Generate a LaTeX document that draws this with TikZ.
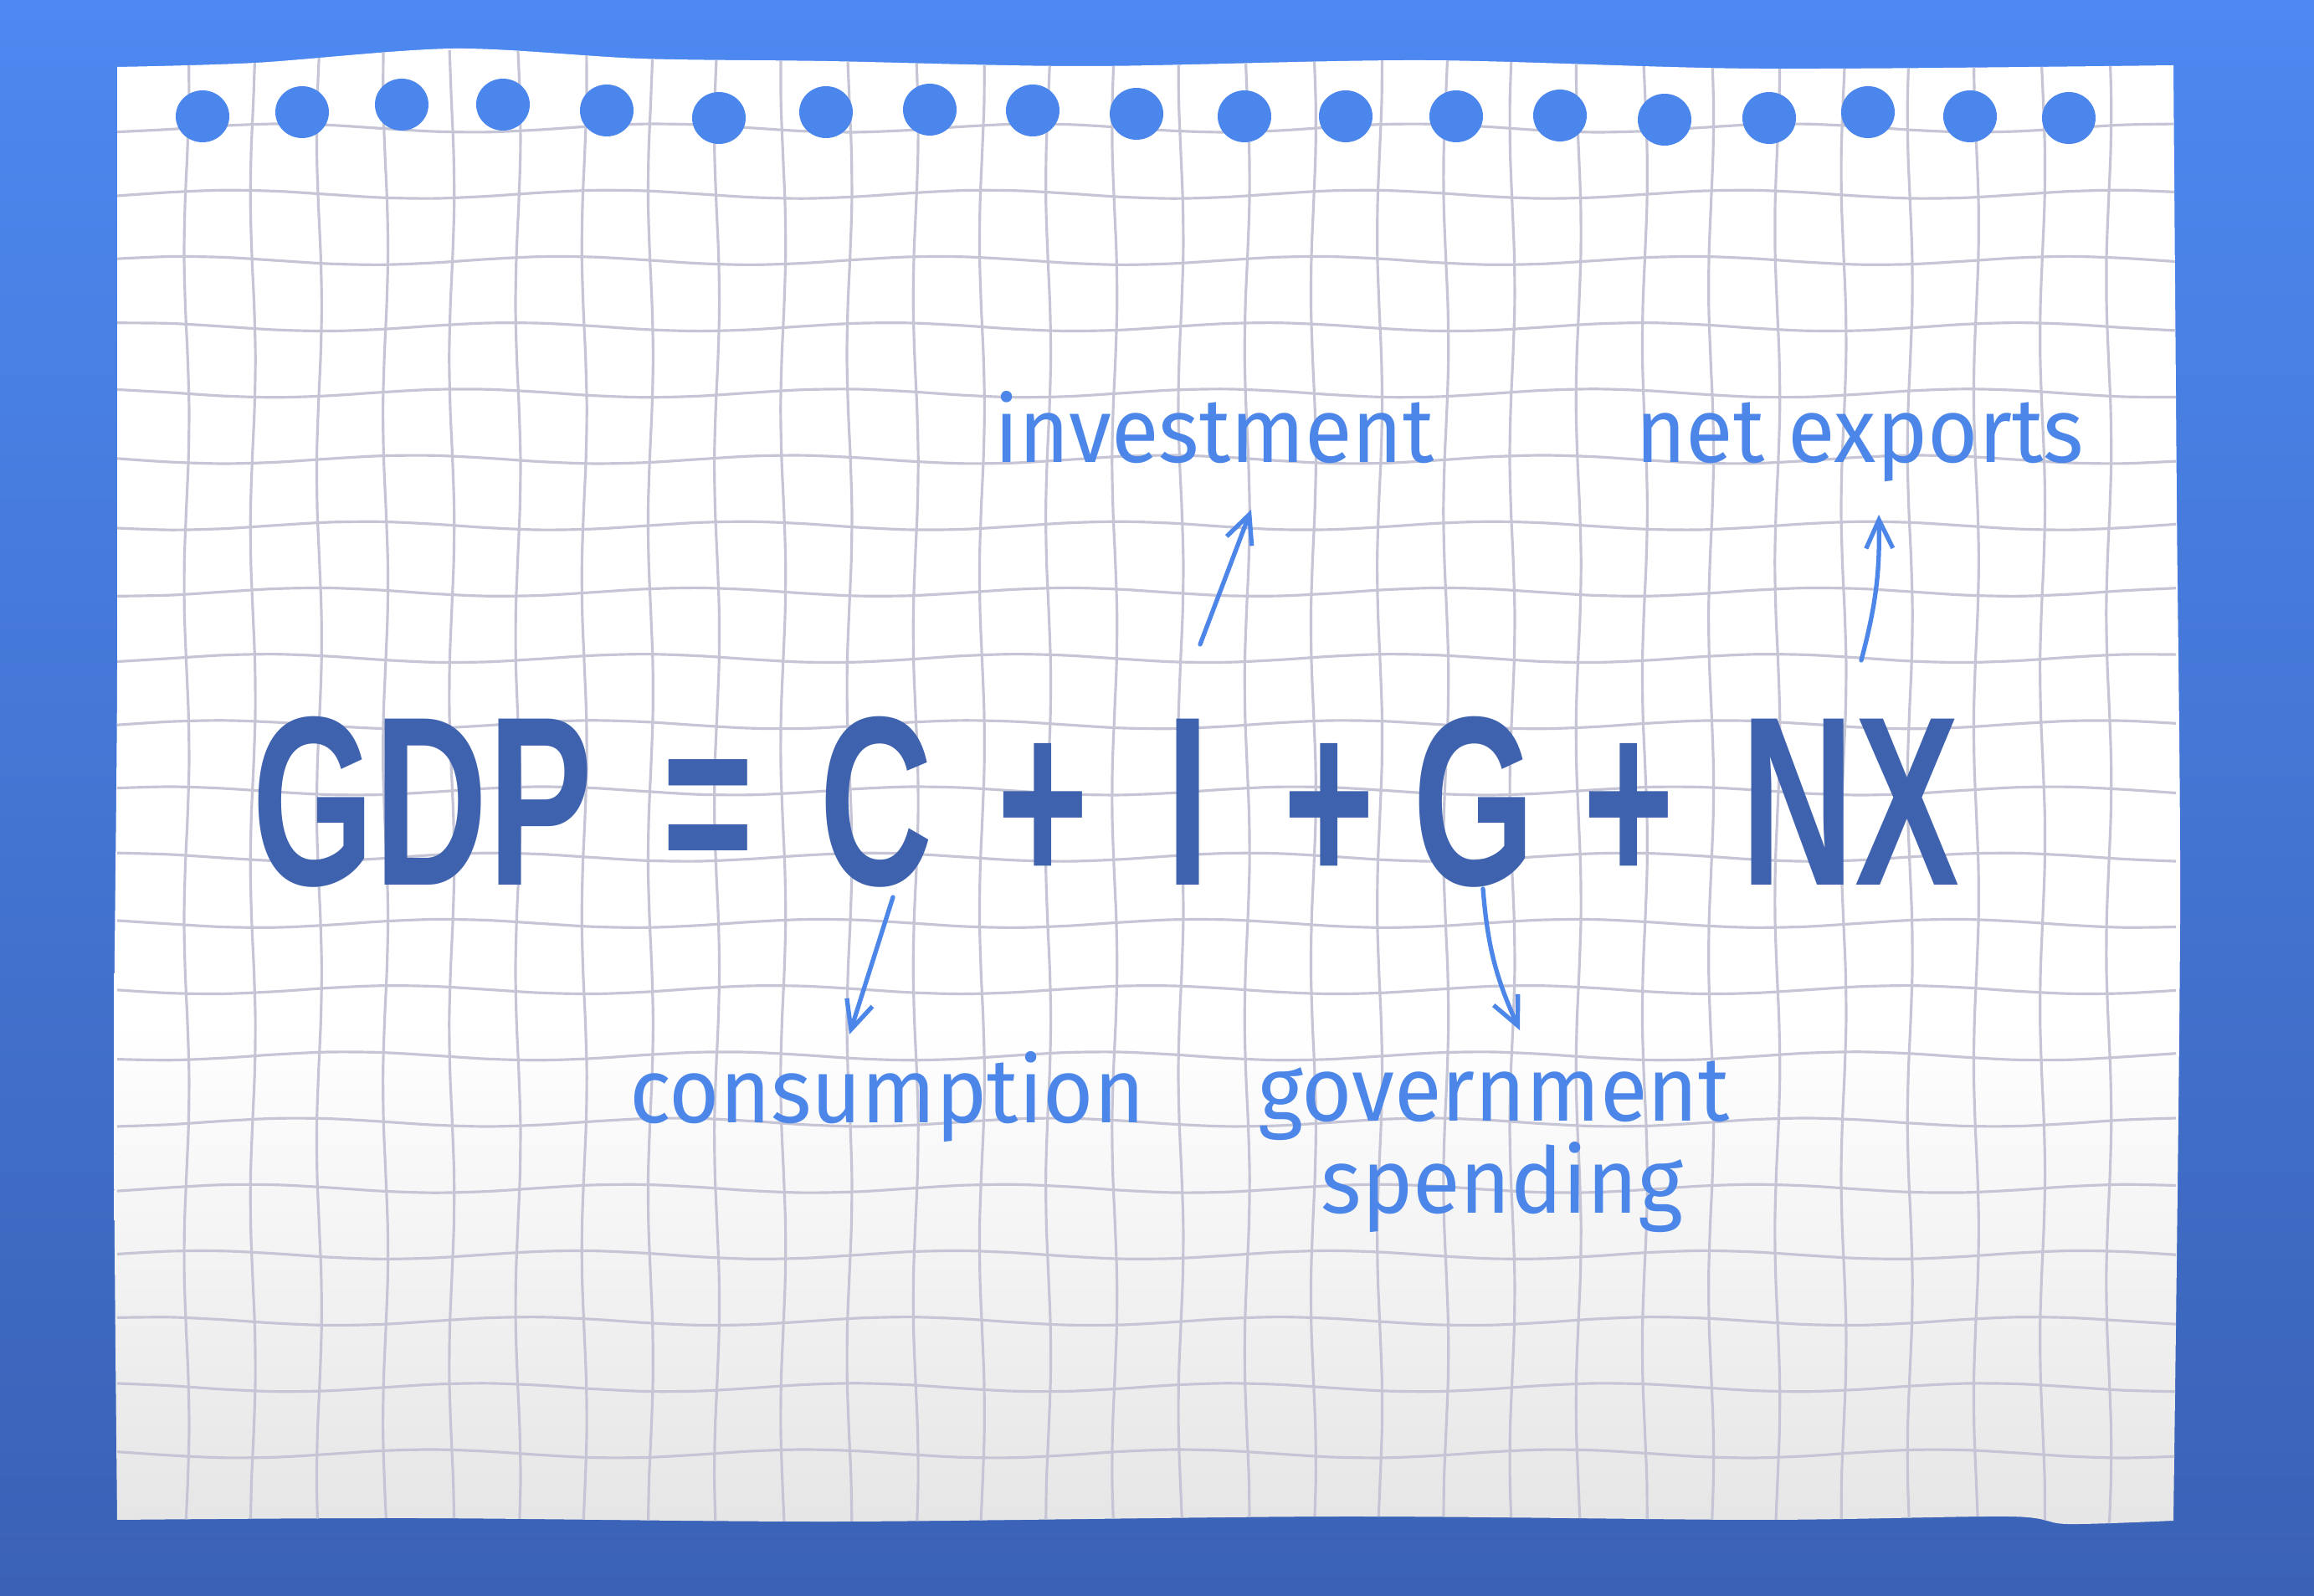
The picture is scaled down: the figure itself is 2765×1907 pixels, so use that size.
\documentclass[tikz,border=0pt]{standalone}
\usepackage{fontspec}
\usepackage{xcolor}
\usepackage{tikz}
\usetikzlibrary{arrows.meta}

\newfontfamily\eqfont[FakeStretch=0.65]{Liberation Sans}
\newfontfamily\penfont[FakeStretch=0.95]{Fira Sans}

\definecolor{bgtop}{HTML}{4D89F1}
\definecolor{bgbot}{HTML}{3A61B5}
\definecolor{paperlow}{HTML}{C4C4C4}
\definecolor{papermid}{HTML}{EAEAEA}
\definecolor{gridc}{HTML}{C6C5D6}
\definecolor{dotblue}{HTML}{4A86EC}
\definecolor{eqblue}{HTML}{3F62AE}
\definecolor{penblue}{HTML}{4C86E8}

\pgfdeclareverticalshading{paperfade}{100bp}{color(0bp)=(paperlow); color(28bp)=(papermid); color(42bp)=(white); color(100bp)=(white)}

% wavy outline of the sheet, in pixel units
\newcommand{\paperoutline}{plot[smooth] coordinates {(140,80) (306,75) (542,58) (765,70) (988,73) (1300,79) (1700,72) (2100,82) (2597,78)}
  -- plot[smooth] coordinates {(2597,78) (2601,600) (2605,1100) (2597,1817)}
  -- plot[smooth] coordinates {(2597,1817) (2470,1821) (2400,1812) (2100,1816) (1600,1812) (1000,1818) (500,1814) (140,1816)}
  -- plot[smooth] coordinates {(140,1816) (136,1300) (140,800) (140,80)} -- cycle}

\begin{document}
\begin{tikzpicture}[x=0.01cm, y=-0.01cm,
  eqterm/.style={anchor=base, inner sep=0pt, text=eqblue, font=\eqfont\bfseries\fontsize{82}{82}\selectfont},
  penlabel/.style={anchor=base, inner sep=0pt, text=penblue, font=\penfont\fontsize{31}{31}\selectfont},
  note/.style={penblue, line width=1.5pt, line cap=round, line join=round, -{Straight Barb[length=0.34cm, width=0.32cm]}},
  gridline/.style={gridc, line width=0.9pt}]

\useasboundingbox (0,0) rectangle (2765,1907);
\shade[top color=bgtop, bottom color=bgbot] (0,0) rectangle (2765,1907);

% the sheet and its grid
\shade[shading=paperfade] \paperoutline;
\begin{scope}
  \clip \paperoutline;
  \foreach \k in {0,...,20}
    \draw[gridline] plot[smooth, domain=140:2600, samples=40] (\x, {153+79.2*\k + 5*sin(0.8*\x + 47*\k)});
  \foreach \k in {0,...,29}
    \draw[gridline] plot[smooth, domain=60:1830, samples=30] ({223+79.2*\k + 3*sin(0.9*\x + 61*\k)}, \x);
\end{scope}

% punched holes
\foreach \px/\py in {242/139, 361/134, 480/125, 601/125, 725/132, 859/141, 987/134, 1111/131, 1234/132, 1358/136,
    1487/139, 1608/139, 1740/139, 1864/138, 1989/143, 2114/141, 2232/134, 2354/139, 2472/141}
  \fill[dotblue] (\px,\py) ellipse (32 and 31);

% equation
\node[eqterm] (gdp) at (505,1058) {GDP};
\node[eqterm] (eq) at (846,1058) {=};
\node[eqterm] (cons) at (1047,1058) {C};
\node[eqterm] (plusA) at (1246,1058) {+};
\node[eqterm] (inv) at (1420,1058) {I};
\node[eqterm] (plusB) at (1588,1058) {+};
\node[eqterm] (gov) at (1761,1058) {G};
\node[eqterm] (plusC) at (1946,1058) {+};
\node[eqterm] (nx) at (2211,1058) {NX};

% handwritten notes
\node[penlabel] (invlab) at (1451,553) {investment};
\node[penlabel] (nxlab) at (2222,553) {net exports};
\node[penlabel] (conslab) at (1060,1342) {consumption};
\node[penlabel] (govlab) at (1785,1340) {government};
\node[penlabel] (spendlab) at (1795,1450) {spending};

\draw[note] ([shift={(20,14)}]cons.base) -- ([shift={(-45,-106)}]conslab.base);
\draw[note] ([shift={(14,-288)}]inv.base) -- ([shift={(44,56)}]invlab.base);
\draw[note] ([shift={(11,4)}]gov.base) to[bend right=10] ([shift={(31,-109)}]govlab.base);
\draw[note] ([shift={(13,-269)}]nx.base) to[bend right=8] ([shift={(23,62)}]nxlab.base);
\end{tikzpicture}
\end{document}
